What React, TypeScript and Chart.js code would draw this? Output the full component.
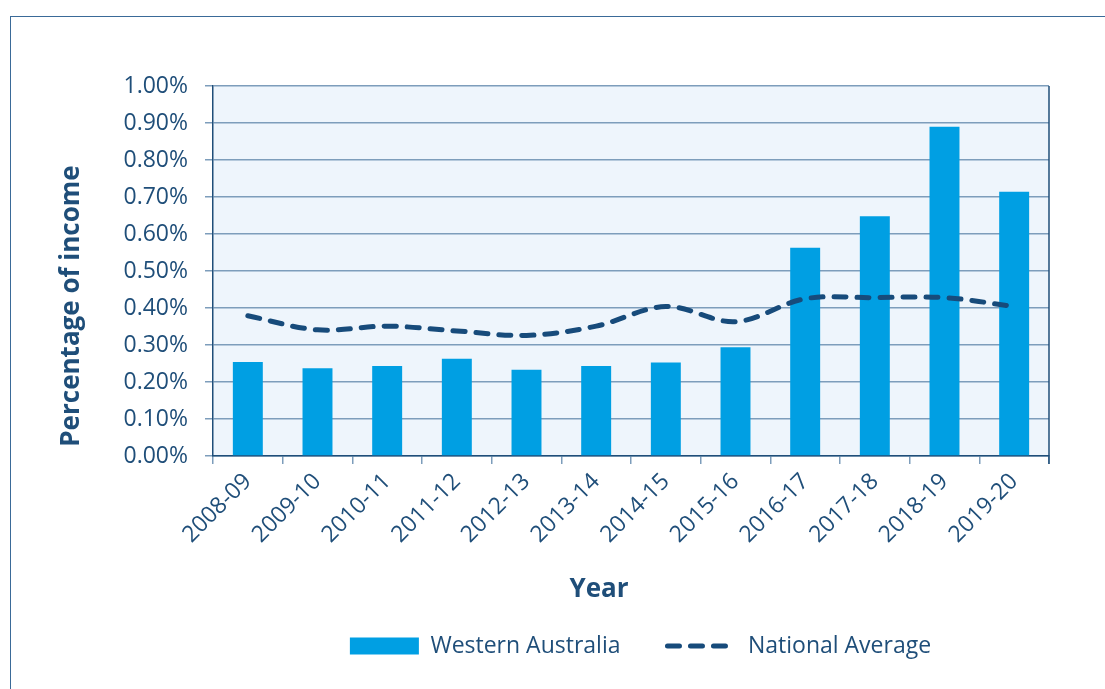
import React, { useEffect, useRef } from 'react';
import { Chart, registerables } from 'chart.js';

Chart.register(...registerables);

const categories = [
  '2008-09', '2009-10', '2010-11', '2011-12', '2012-13', '2013-14',
  '2014-15', '2015-16', '2016-17', '2017-18', '2018-19', '2019-20',
];
const westernAustralia = [0.254, 0.237, 0.243, 0.263, 0.233, 0.243, 0.253, 0.294, 0.563, 0.648, 0.89, 0.714];
const nationalAverage = [0.379, 0.341, 0.351, 0.338, 0.326, 0.351, 0.404, 0.363, 0.425, 0.428, 0.428, 0.404];
const yMin = 0;
const yMax = 1;
const yStep = 0.1;
const seriesLabels = ['Western Australia', 'National Average'];
const axisTitles = { x: 'Year', y: 'Percentage of income' };

const FONT = "'Open Sans', 'DejaVu Sans', sans-serif";
const TEXT = '#1f4e79';
const BAR = '#009fe3';
const LINE = '#174b7b';
const GRID = '#7d9dbb';
const PLOT_BG = '#eef5fc';
const DASH = [12, 11];

export default function App() {
  const ref = useRef<HTMLCanvasElement>(null);

  useEffect(() => {
    document.body.style.margin = '0';
    const canvas = ref.current;
    if (!canvas) return;

    const plotPlugin = {
      id: 'plotDecor',
      beforeDraw(chart: any) {
        const { ctx, chartArea: a } = chart;
        ctx.save();
        ctx.fillStyle = PLOT_BG;
        ctx.fillRect(a.left, a.top, a.right - a.left, a.bottom - a.top);
        ctx.restore();
      },
      afterLayout(chart: any) {
        const lg = chart.legend;
        if (lg) {
          const shift = 116;
          lg.left += shift;
          lg.right += shift;
        }
      },
      afterDraw(chart: any) {
        const { ctx, chartArea: a } = chart;
        ctx.save();
        ctx.strokeStyle = TEXT;
        ctx.lineWidth = 1.5;
        ctx.beginPath();
        ctx.moveTo(a.right, a.top);
        ctx.lineTo(a.right, a.bottom + 8);
        ctx.stroke();
        ctx.fillStyle = TEXT;
        ctx.font = `bold 26px ${FONT}`;
        ctx.textAlign = 'center';
        ctx.textBaseline = 'middle';
        ctx.fillText(axisTitles.x, a.left + 386, a.bottom + 134);
        ctx.translate(a.left - 141.5, a.bottom - 150);
        ctx.rotate(-Math.PI / 2);
        ctx.fillText(axisTitles.y, 0, 0);
        ctx.restore();
      },
    };

    const chart = new Chart(canvas, {
      type: 'bar',
      data: {
        labels: categories,
        datasets: [
          {
            type: 'bar',
            label: seriesLabels[0],
            data: westernAustralia,
            backgroundColor: BAR,
            borderWidth: 0,
            categoryPercentage: 1,
            barPercentage: 0.43,
            order: 2,
            pointStyle: 'rect',
          } as any,
          {
            type: 'line',
            label: seriesLabels[1],
            data: nationalAverage,
            borderColor: LINE,
            backgroundColor: LINE,
            borderWidth: 5,
            borderDash: DASH,
            borderCapStyle: 'round',
            tension: 0.35,
            pointRadius: 0,
            fill: false,
            order: 1,
            pointStyle: 'line',
          } as any,
        ],
      },
      options: {
        animation: false,
        responsive: false,
        maintainAspectRatio: false,
        layout: { padding: { left: 0, right: 56, top: 86, bottom: 21.5 } },
        plugins: {
          tooltip: { enabled: false },
          legend: {
            position: 'bottom',
            labels: {
              usePointStyle: true,
              pointStyleWidth: 69,
              boxHeight: 17,
              padding: 47,
              color: TEXT,
              font: { family: FONT, size: 23 },
              sort: (a: any, b: any) => a.datasetIndex - b.datasetIndex,
              generateLabels: (c: any) => {
                const items = Chart.defaults.plugins.legend.labels.generateLabels(c);
                items.forEach((it: any) => {
                  if (it.datasetIndex === 1) {
                    it.lineWidth = 5;
                    it.lineDash = DASH;
                    it.lineCap = 'round';
                    it.strokeStyle = LINE;
                    it.fillStyle = LINE;
                    it.pointStyle = 'line';
                  } else {
                    it.lineWidth = 0;
                    it.fillStyle = BAR;
                    it.pointStyle = 'rect';
                  }
                });
                return items;
              },
            },
          },
        },
        scales: {
          x: {
            grid: {
              display: true,
              drawOnChartArea: false,
              drawTicks: true,
              tickLength: 8,
              color: GRID,
              lineWidth: 1.5,
              offset: true,
            },
            border: { display: true, color: TEXT, width: 1.5 },
            ticks: {
              autoSkip: false,
              minRotation: 45,
              maxRotation: 45,
              color: TEXT,
              font: { family: FONT, size: 23 },
              padding: 4,
            },
            afterFit: (s: any) => {
              s.height = 131.5;
            },
          },
          y: {
            min: yMin,
            max: yMax,
            ticks: {
              stepSize: yStep,
              color: TEXT,
              font: { family: FONT, size: 23 },
              padding: 17,
              callback: (v: any) => Number(v).toFixed(2) + '%',
            },
            grid: { color: GRID, lineWidth: 1.5, tickLength: 8, drawTicks: true },
            border: { display: true, color: TEXT, width: 1.5 },
            afterFit: (s: any) => {
              s.width = 213;
            },
          },
        },
      },
      plugins: [plotPlugin],
    });

    return () => chart.destroy();
  }, []);

  return (
    <div style={{ position: 'relative', width: 1105, height: 689, overflow: 'hidden', background: '#fff' }}>
      <div
        style={{
          position: 'absolute',
          left: 10,
          top: 16,
          right: -5,
          bottom: -5,
          borderLeft: '1px solid #3a6a98',
          borderTop: '1px solid #3a6a98',
        }}
      />
      <canvas
        ref={ref}
        width={1105}
        height={689}
        style={{ position: 'absolute', left: 0, top: 0, width: 1105, height: 689 }}
      />
    </div>
  );
}
